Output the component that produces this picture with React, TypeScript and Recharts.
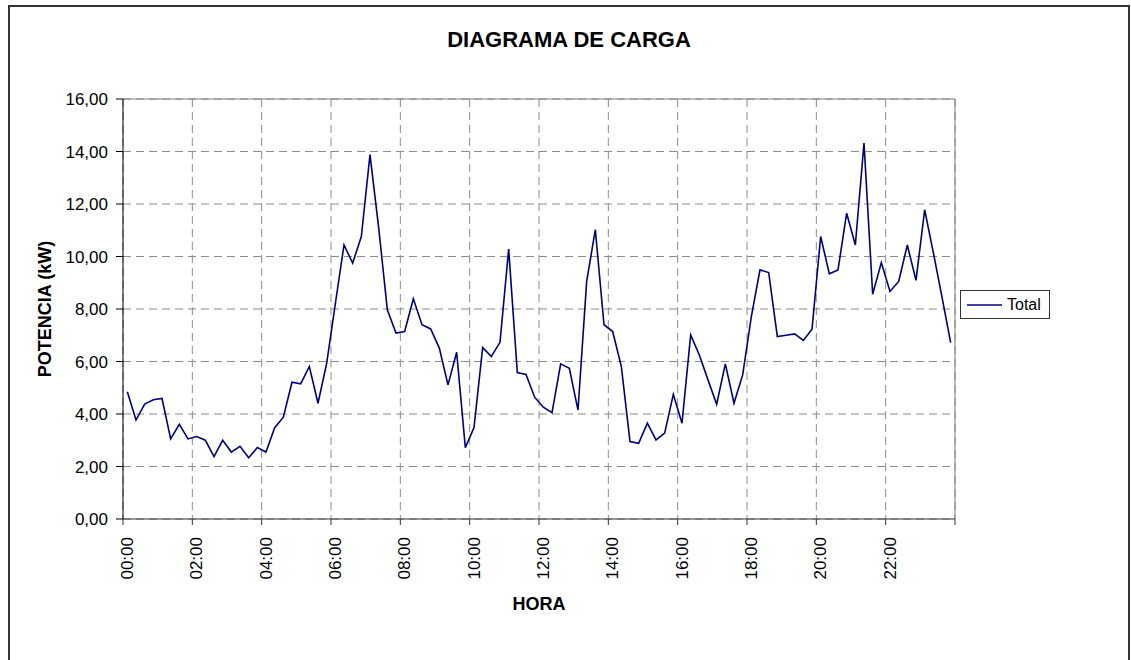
import React from "react";
import { LineChart, Line, XAxis, YAxis, CartesianGrid, ReferenceLine, Legend, Label } from "recharts";

// 15-minute readings, 00:00 .. 23:45 (kW)
const loadValues = [
  4.85, 3.77, 4.38, 4.54, 4.59, 3.05, 3.61, 3.05,
  3.14, 3.0, 2.38, 3.0, 2.55, 2.77, 2.33, 2.72,
  2.55, 3.48, 3.88, 5.21, 5.15, 5.81, 4.41, 5.93,
  8.2, 10.44, 9.75, 10.76, 13.88, 11.1, 7.97, 7.08,
  7.14, 8.39, 7.4, 7.24, 6.51, 5.11, 6.35, 2.72,
  3.48, 6.53, 6.19, 6.73, 10.28, 5.58, 5.51, 4.64,
  4.26, 4.05, 5.91, 5.74, 4.15, 9.05, 11.02, 7.4,
  7.14, 5.81, 2.95, 2.88, 3.65, 3.01, 3.27, 4.75,
  3.65, 7.01, 6.25, 5.3, 4.37, 5.91, 4.41, 5.49,
  7.71, 9.49, 9.39, 6.95, 7.0, 7.05, 6.8, 7.23,
  10.76, 9.34, 9.49, 11.65, 10.44, 14.32, 8.56, 9.77,
  8.67, 9.05, 10.44, 9.09, 11.78, 10.15, 8.45, 6.72,
];

const hourLabels = ["00:00", "02:00", "04:00", "06:00", "08:00", "10:00", "12:00", "14:00", "16:00", "18:00", "20:00", "22:00"];
const yTicks = [0, 2, 4, 6, 8, 10, 12, 14, 16];

const pad = (n: number) => String(n).padStart(2, "0");
const data = loadValues.map((value, i) => ({
  idx: i,
  time: `${pad(Math.floor(i / 4))}:${pad((i % 4) * 15)}`,
  value,
}));

// tick marks sit between categories, every 8 readings (2 h)
const xTicks = Array.from({ length: 13 }, (_, k) => k * 8 - 0.5);

const font = '"Liberation Sans", Arial, sans-serif';

function HourTick(props: any) {
  const { x, y, payload } = props;
  const k = Math.round((payload.value + 0.5) / 8);
  const label = hourLabels[k];
  if (!label) return null;
  const cx = x + 4;
  return (
    <text x={cx} y={y} transform={`rotate(-90 ${cx} ${y})`} textAnchor="end" dy="0.35em" fontSize={17} fill="#000">
      {label}
    </text>
  );
}

function LegendBox() {
  return (
    <div style={{ boxSizing: "border-box", width: 90, height: 29, border: "1px solid #333", display: "flex", alignItems: "center", paddingLeft: 6, background: "#fff" }}>
      <svg width={35} height={4} style={{ marginRight: 5 }}>
        <line x1={0} y1={2} x2={35} y2={2} stroke="#000080" strokeWidth={1.6} />
      </svg>
      <span style={{ fontSize: 16, color: "#000" }}>Total</span>
    </div>
  );
}

export default function App() {
  return (
    <div style={{ position: "fixed", left: 0, top: 0, width: 1131, height: 660, overflow: "hidden", background: "#fff" }}>
      <div style={{ position: "absolute", left: 8, top: 5, width: 1122, height: 700, border: "2px solid #333", boxSizing: "border-box", fontFamily: font }}>
        <div style={{ position: "absolute", left: 0, top: 20, width: 1118, textAlign: "center", fontWeight: "bold", fontSize: 22, color: "#000" }}>
          DIAGRAMA DE CARGA
        </div>
        <LineChart width={1118} height={696} data={data} margin={{ top: 92, right: 173, left: 8, bottom: 93 }}>
          <CartesianGrid stroke="#8c8c8c" strokeDasharray="8 5" />
          <XAxis
            type="number"
            dataKey="idx"
            domain={[-0.5, 95.5]}
            ticks={xTicks}
            interval={0}
            allowDecimals
            height={91}
            tickSize={6}
            tickMargin={12}
            stroke="#333"
            tick={<HourTick />}
          >
            <Label value="HORA" position="insideBottom" offset={0} style={{ fontWeight: "bold", fontSize: 18, fill: "#000" }} />
          </XAxis>
          <YAxis
            domain={[0, 16]}
            ticks={yTicks}
            interval={0}
            width={105}
            tickSize={7}
            tickMargin={8}
            stroke="#000"
            tick={{ fill: "#000", fontSize: 17 }}
            tickFormatter={(v: number) => v.toFixed(2).replace(".", ",")}
          >
            <Label value="POTENCIA (kW)" angle={-90} position="insideLeft" offset={27} style={{ textAnchor: "middle", fontWeight: "bold", fontSize: 18, fill: "#000" }} />
          </YAxis>
          <ReferenceLine y={16} stroke="#808080" />
          <ReferenceLine x={95.5} stroke="#808080" />
          <Line type="linear" dataKey="value" name="Total" stroke="#000080" strokeWidth={1.6} dot={false} isAnimationActive={false} />
          <Legend layout="vertical" align="center" verticalAlign="middle" wrapperStyle={{ left: 950, top: 283, width: 90, height: 29 }} content={<LegendBox />} />
        </LineChart>
      </div>
    </div>
  );
}
